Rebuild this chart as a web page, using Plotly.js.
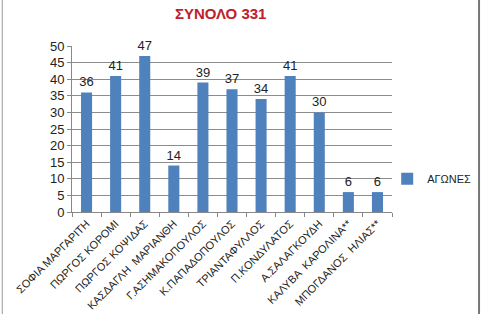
<!DOCTYPE html>
<html><head><meta charset="utf-8">
<script src="https://cdn.plot.ly/plotly-3.0.1.min.js"></script>
<style>html,body{margin:0;padding:0;background:#fff}#c{width:485px;height:314px}</style>
</head><body><div id="c"></div>
<script>
const categories = ["ΣΟΦΙΑ ΜΑΡΓΑΡΙΤΗ","ΠΩΡΓΟΣ ΚΟΡΟΜΙ","ΠΩΡΓΟΣ ΚΟΨΙΔΑΣ","ΚΑΣΔΑΓΛΗ  ΜΑΡΙΑΝΘΗ","Γ.ΑΣΗΜΑΚΟΠΟΥΛΟΣ","Κ.ΠΑΠΑΔΟΠΟΥΛΟΣ","ΤΡΙΑΝΤΑΦΥΛΛΟΣ","Π.ΚΟΝΔΥΛΑΤΟΣ","Α.ΣΑΛΑΓΚΟΥΔΗ","ΚΑΛΥΒΑ  ΚΑΡΟΛΙΝΑ**","ΜΠΟΓΔΑΝΟΣ  ΗΛΙΑΣ**"];
const values = [36,41,47,14,39,37,34,41,30,6,6];
const seriesName = "ΑΓΩΝΕΣ";
const titleText = "ΣΥΝΟΛΟ 331";
const yTicks = [0,5,10,15,20,25,30,35,40,45,50];

const font = "Liberation Sans, Arial, sans-serif";
const trace = {
  type: "bar", x: categories, y: values, name: seriesName,
  marker: {color: "#4f81bd"}, width: 0.38,
  text: values.map(String), textposition: "outside", cliponaxis: false, constraintext: "none",
  textfont: {family: font, size: 13, color: "#222"}
};
const layout = {
  width: 485, height: 314,
  margin: {l: 72, r: 93, t: 46, b: 102, autoexpand: false},
  paper_bgcolor: "#fff", plot_bgcolor: "#fff",
  title: {text: titleText, font: {family: font, size: 15, color: "#c0202a", weight: "bold"}, x: 0.455, xanchor: "center", y: 0.955, yanchor: "middle", automargin: false},
  showlegend: true,
  legend: {x: 0.985, y: 0.2, xanchor: "left", yanchor: "middle", font: {family: font, size: 11, color: "#222"}, itemwidth: 30, bgcolor: "rgba(0,0,0,0)"},
  xaxis: {type: "category", automargin: false, tickangle: -45, tickfont: {family: font, size: 11, color: "#222"}, showline: true, linecolor: "#888", ticks: "outside", tickson: "boundaries", ticklen: 4, tickcolor: "#888", showgrid: false},
  yaxis: {automargin: false, range: [0, 50], tickvals: yTicks, tickfont: {family: font, size: 13, color: "#222"}, showline: true, linecolor: "#888", ticks: "outside", ticklen: 4, tickcolor: "#888", showgrid: true, gridcolor: "#8c8c8c", gridwidth: 1, zeroline: false},
  shapes: [
    {type: "line", xref: "paper", yref: "paper", x0: -0.218, x1: -0.218, y0: -0.7, y1: 1.3, line: {color: "#999", width: 1}},
    {type: "line", xref: "paper", yref: "paper", x0: 1.272, x1: 1.272, y0: -0.7, y1: 1.3, line: {color: "#777", width: 2}}
  ]
};
Plotly.newPlot("c", [trace], layout, {staticPlot: true, displayModeBar: false});
</script></body></html>
